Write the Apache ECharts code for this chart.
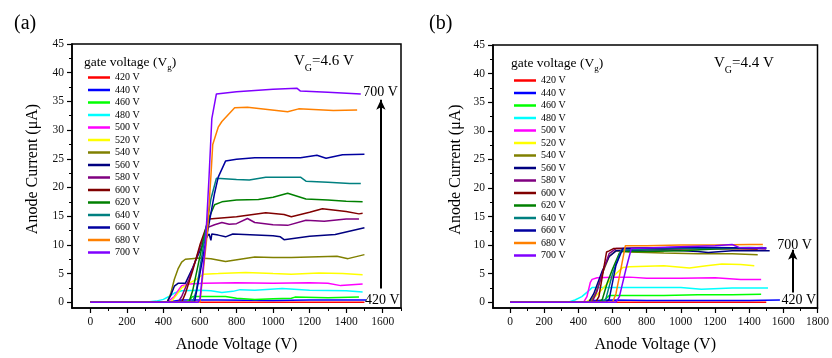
<!DOCTYPE html>
<html><head><meta charset="utf-8">
<script src="https://cdn.jsdelivr.net/npm/echarts@6/dist/echarts.min.js"></script>
<style>html,body{margin:0;padding:0;background:#fff}#c{width:832px;height:358px}</style>
</head><body><div id="c"></div>
<script>
// ---- categories / names ----
const seriesNames = ['420 V','440 V','460 V','480 V','500 V','520 V','540 V','560 V','580 V','600 V','620 V','640 V','660 V','680 V','700 V'];
const seriesColors = ['#FF0000','#0000FF','#00FF00','#00FFFF','#FF00FF','#FFFF00','#808000','#000080','#800080','#800000','#008000','#008080','#0000A0','#FF8000','#8000FF'];
// ---- tick labels ----
const xTicksA = [0,200,400,600,800,1000,1200,1400,1600];
const xMinorA = [100,300,500,700,900,1100,1300,1500,1700];
const xTicksB = [0,200,400,600,800,1000,1200,1400,1600,1800];
const xMinorB = [100,300,500,700,900,1100,1300,1500,1700];
const yTicks = [0,5,10,15,20,25,30,35,40,45];
const yMinor = [2.5,7.5,12.5,17.5,22.5,27.5,32.5,37.5,42.5];

// ---- panel (a): V_G = 4.6 V ----
const a420 = [[0,0],[200,0],[400,0],[600,0],[800,0],[1000,0],[1200,0],[1400,0],[1500,0]];
const a440 = [[0,0],[300,0],[420,0],[460,0.2],[500,0.4],[700,0.4],[1000,0.3],[1200,0.4],[1510,0.4]];
const a460 = [[0,0],[400,0],[520,0],[540,0.3],[560,1.0],[620,1.0],[740,1.0],[800,0.7],[900,0.5],[1000,0.6],[1100,0.7],[1120,0.9],[1300,0.8],[1470,0.9]];
const a480 = [[0,0],[300,0],[360,0.2],[400,0.5],[430,1.0],[460,1.6],[500,2.0],[600,2.1],[660,2.0],[720,1.7],[780,1.9],[820,2.2],[900,2.1],[1050,2.4],[1200,2.1],[1400,2.0],[1490,1.8]];
const a500 = [[0,0],[420,0],[460,1.0],[480,2.0],[500,2.9],[540,3.2],[620,3.3],[800,3.4],[1000,3.3],[1200,3.4],[1300,3.3],[1370,2.9],[1490,3.2]];
const a520 = [[0,0],[440,0],[470,1.2],[500,2.5],[540,3.3],[580,4.0],[620,4.9],[700,5.0],[850,5.2],[1000,5.0],[1100,4.9],[1250,5.1],[1380,5.0],[1490,4.8]];
const a540 = [[0,0],[420,0],[440,1.5],[460,4.0],[480,5.8],[500,7.0],[520,7.5],[600,7.7],[660,7.6],[740,7.1],[900,7.9],[1000,7.8],[1100,7.8],[1350,8.0],[1410,7.6],[1500,8.3]];
const a560 = [[0,0],[420,0],[440,1.2],[460,2.8],[480,3.3],[520,3.3],[560,6.0],[600,9.0],[640,11.5],[650,11.9],[660,10.8],[665,11.9],[700,11.7],[740,11.4],[780,11.9],[1000,11.6],[1040,11.4],[1060,10.9],[1200,11.5],[1340,11.8],[1500,13.0]];
const a580 = [[0,0],[480,0],[500,1.0],[540,4.0],[600,9.5],[640,13.0],[680,13.5],[720,13.9],[760,13.6],[800,13.7],[860,14.6],[900,13.9],[1000,13.5],[1080,13.4],[1180,14.3],[1280,14.1],[1400,14.5],[1470,14.5]];
const a600 = [[0,0],[500,0],[520,1.5],[560,5.5],[600,10.0],[650,14.5],[800,14.9],[960,15.6],[1060,15.3],[1100,14.9],[1200,15.7],[1270,16.3],[1400,15.8],[1470,15.4],[1490,15.5]];
const a620 = [[0,0],[540,0],[560,2.0],[600,8.0],[640,14.0],[680,17.0],[720,17.5],[800,17.8],[920,17.9],[1000,18.3],[1080,19.0],[1180,18.0],[1300,17.8],[1400,17.6],[1490,17.5]];
const a640 = [[0,0],[560,0],[580,2.0],[620,10.0],[660,18.0],[690,21.6],[800,21.4],[870,21.3],[960,21.8],[1150,21.8],[1180,21.1],[1300,20.9],[1420,20.7],[1480,20.7]];
const a660 = [[0,0],[570,0],[600,5.0],[640,12.0],[680,19.0],[700,21.8],[740,24.6],[800,24.9],[900,25.2],[1000,25.2],[1150,25.2],[1240,25.6],[1290,25.1],[1380,25.7],[1500,25.8]];
const a680 = [[0,0],[600,0],[640,12.0],[660,22.0],[670,27.5],[700,30.5],[720,31.5],[790,33.9],[860,34.0],[1080,33.2],[1140,33.7],[1330,33.4],[1460,33.5]];
const a700 = [[0,0],[590,0],[600,0.5],[630,10.0],[650,22.0],[665,32.0],[690,36.3],[800,36.7],[1000,37.1],[1130,37.3],[1150,36.8],[1300,36.6],[1480,36.3]];

// ---- panel (b): V_G = 4.4 V ----
const b420 = [[0,0],[400,0],[600,0],[800,0],[1000,0],[1200,0],[1500,0]];
const b440 = [[0,0],[440,0],[480,0.3],[600,0.4],[800,0.3],[1000,0.3],[1200,0.3],[1400,0.3],[1580,0.4]];
const b460 = [[0,0],[540,0],[560,0.6],[580,1.2],[700,1.2],[900,1.2],[1100,1.3],[1300,1.3],[1470,1.4]];
const b480 = [[0,0],[340,0],[380,0.4],[420,1.0],[460,2.0],[480,2.6],[600,2.6],[800,2.6],[1000,2.6],[1120,2.3],[1300,2.5],[1510,2.5]];
const b500 = [[0,0],[430,0],[450,1.0],[470,3.5],[480,4.0],[510,4.3],[600,4.4],[700,4.4],[800,4.2],[1000,4.2],[1200,4.3],[1350,4.0],[1470,4.0]];
const b520 = [[0,0],[440,0],[500,1.0],[560,3.0],[620,5.0],[660,6.1],[700,6.2],[900,6.4],[1050,6.0],[1150,6.4],[1240,6.7],[1350,6.6],[1430,6.4]];
const b540 = [[0,0],[470,0],[500,1.5],[540,5.0],[580,8.0],[620,9.0],[700,8.8],[900,8.6],[1100,8.5],[1300,8.5],[1450,8.3]];
const b560 = [[0,0],[460,0],[490,1.5],[540,5.5],[580,8.0],[620,9.0],[700,9.1],[900,9.2],[1100,8.9],[1160,8.7],[1300,9.0],[1520,9.0]];
const b580 = [[0,0],[480,0],[510,2.0],[550,6.0],[580,8.5],[620,9.4],[800,9.5],[1000,9.6],[1200,9.5],[1400,9.4],[1500,9.3]];
const b600 = [[0,0],[500,0],[520,1.0],[540,4.5],[565,8.8],[580,9.0],[605,9.4],[800,9.4],[1000,9.3],[1200,9.4],[1450,9.3]];
const b620 = [[0,0],[520,0],[540,0.5],[570,3.5],[600,5.8],[640,8.6],[660,8.9],[800,8.9],[1000,9.0],[1200,9.3],[1400,9.5],[1480,9.6]];
const b640 = [[0,0],[540,0],[560,0.5],[600,5.0],[650,9.1],[800,9.3],[1000,9.4],[1200,9.5],[1400,9.6],[1500,9.5]];
const b660 = [[0,0],[560,0],[580,0.5],[620,6.5],[660,9.4],[800,9.5],[1000,9.6],[1200,9.6],[1400,9.5],[1500,9.5]];
const b680 = [[0,0],[600,0],[620,1.5],[650,6.0],[675,9.9],[800,9.9],[1000,10.0],[1200,10.0],[1400,10.1],[1480,10.1]];
const b700 = [[0,0],[620,0],[640,1.0],[680,6.0],[710,9.4],[800,9.5],[1000,9.7],[1200,9.9],[1300,10.1],[1340,9.6],[1500,9.5]];

// ---- annotations (data coordinates) ----
const arrowA = [[1590,2.4],[1590,35.3]];
const arrowB = [[1655,1.7],[1655,9.2]];
const labelsA = [['700 V',1588,36.5],['420 V',1598,0.36]];
const labelsB = [['700 V',1666,10.0],['420 V',1690,0.35]];

const panelA = [a420,a440,a460,a480,a500,a520,a540,a560,a580,a600,a620,a640,a660,a680,a700];
const panelB = [b420,b440,b460,b480,b500,b520,b540,b560,b580,b600,b620,b640,b660,b680,b700];

const FF = '"Liberation Serif","DejaVu Serif",serif';
const chart = echarts.init(document.getElementById('c'), null, {renderer:'canvas'});

function xAxes(grid, max, ticks, minor) {
  return [{
    type:'value', gridIndex:grid, min:-100, max:max, position:'bottom',
    name:'Anode Voltage (V)', nameLocation:'middle', nameGap:29,
    nameTextStyle:{fontFamily:FF, fontSize:16, color:'#000'},
    axisLine:{show:true, onZero:false, lineStyle:{color:'#000', width:1.6}},
    axisTick:{show:true, customValues:ticks, length:5, lineStyle:{color:'#000', width:1.2}},
    axisLabel:{show:true, customValues:ticks, formatter:v => String(v), fontFamily:FF, fontSize:11.5, color:'#111', margin:8, hideOverlap:false},
    splitLine:{show:false}
  },{
    type:'value', gridIndex:grid, min:-100, max:max, position:'bottom',
    axisLine:{show:false, onZero:false},
    axisTick:{show:true, customValues:minor, length:3, lineStyle:{color:'#000', width:1}},
    axisLabel:{show:false}, splitLine:{show:false}
  }];
}
function yAxes(grid, gap) {
  return [{
    type:'value', gridIndex:grid, min:-1, max:45, position:'left',
    name:'Anode Current (\u03bcA)', nameLocation:'middle', nameGap:gap,
    nameTextStyle:{fontFamily:FF, fontSize:16, color:'#000', padding:[0,0,0,14]},
    axisLine:{show:true, onZero:false, lineStyle:{color:'#000', width:1.6}},
    axisTick:{show:true, customValues:yTicks, length:5, lineStyle:{color:'#000', width:1.2}},
    axisLabel:{show:true, customValues:yTicks, formatter:v => String(v), fontFamily:FF, fontSize:11.5, color:'#111', margin:8},
    splitLine:{show:false}
  },{
    type:'value', gridIndex:grid, min:-1, max:45, position:'left',
    axisLine:{show:false, onZero:false},
    axisTick:{show:true, customValues:yMinor, length:3, lineStyle:{color:'#000', width:1}},
    axisLabel:{show:false}, splitLine:{show:false}
  }];
}

function makeSeries(panel, grid, xIdx, yIdx, arrow, labels) {
  return panel.map((d, i) => {
    const s = {
      type:'line', name:seriesNames[i], data:d, xAxisIndex:xIdx, yAxisIndex:yIdx,
      color:seriesColors[i], symbol:'none', showSymbol:false, animation:false,
      lineStyle:{width:1.5, color:seriesColors[i]}, clip:true, z:2+i
    };
    if (i === 0) {
      s.markLine = {
        silent:true, animation:false, symbol:['none','arrow'], symbolSize:[7,10],
        lineStyle:{color:'#000', width:2, type:'solid'}, label:{show:false},
        data:[[{coord:arrow[0]},{coord:arrow[1]}]]
      };
      s.markPoint = {
        silent:true, animation:false, symbol:'circle', symbolSize:1,
        itemStyle:{color:'rgba(0,0,0,0)'},
        label:{show:true, position:'inside', color:'#000', fontFamily:FF, fontSize:14},
        data:labels.map(l => ({coord:[l[1], l[2]], label:{formatter:l[0]}}))
      };
    }
    return s;
  });
}

function legendFor(left, top) {
  return {
    show:true, orient:'vertical', left:left, top:top, padding:0,
    icon:'rect', itemWidth:22, itemHeight:2.5, itemGap:2.5,
    selectedMode:false,
    textStyle:{fontFamily:FF, fontSize:10, color:'#000'},
    data:seriesNames
  };
}

const rich = {
  n:{fontFamily:FF, fontSize:15, fontWeight:'normal', color:'#000', lineHeight:18, verticalAlign:'top'},
  s:{fontFamily:FF, fontSize:10, fontWeight:'normal', color:'#000', lineHeight:10, padding:[9,0,0,0], verticalAlign:'top'},
  m:{fontFamily:FF, fontSize:13.5, fontWeight:'normal', color:'#000', lineHeight:16, verticalAlign:'top'},
  t:{fontFamily:FF, fontSize:9, fontWeight:'normal', color:'#000', lineHeight:9, padding:[8,0,0,0], verticalAlign:'top'}
};

const option = {
  backgroundColor:'#fff',
  animation:false,
  title:[
    {text:'(a)', left:9, top:9, textStyle:{fontFamily:FF, fontSize:20, fontWeight:'normal', color:'#000'}},
    {text:'(b)', left:424, top:9, textStyle:{fontFamily:FF, fontSize:20, fontWeight:'normal', color:'#000'}},
    {text:'{m|gate voltage (V}{t|g}{m|)}', left:79, top:50, textStyle:{fontWeight:'normal', rich:rich}},
    {text:'{m|gate voltage (V}{t|g}{m|)}', left:506, top:51, textStyle:{fontWeight:'normal', rich:rich}},
    {text:'{n|V}{s|G}{n|=4.6 V}', left:289, top:49, textStyle:{fontWeight:'normal', rich:rich}},
    {text:'{n|V}{s|G}{n|=4.4 V}', left:709, top:51, textStyle:{fontWeight:'normal', rich:rich}}
  ],
  legend:[legendFor(88, 72.5), legendFor(514, 75.5)],
  grid:[
    {left:72, top:44, width:329, height:266, show:true, borderColor:'#000', borderWidth:1.5, containLabel:false},
    {left:493, top:45, width:331, height:266, show:true, borderColor:'#000', borderWidth:1.5, containLabel:false}
  ],
  xAxis:[...xAxes(0, 1700, xTicksA, xMinorA), ...xAxes(1, 1800, xTicksB, xMinorB)],
  yAxis:[...yAxes(0, 31), ...yAxes(1, 29)],
  series:[
    ...makeSeries(panelA, 0, 0, 0, arrowA, labelsA),
    ...makeSeries(panelB, 1, 2, 2, arrowB, labelsB)
  ]
};
chart.setOption(option);
</script>
</body></html>
